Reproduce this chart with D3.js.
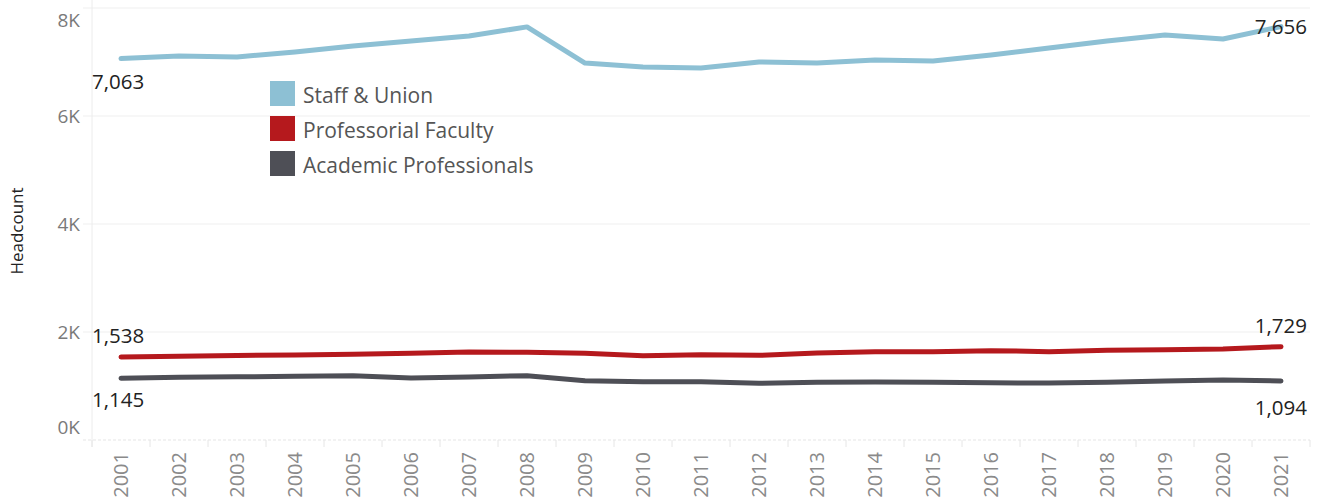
<!DOCTYPE html>
<html>
<head>
<meta charset="utf-8">
<script src="https://cdn.jsdelivr.net/npm/d3@7"></script>
<style>
  body { margin: 0; background: #fff; }
  text { font-family: "Open Sans", "Noto Sans", sans-serif; }
</style>
</head>
<body>
<svg id="chart"></svg>
<script>
// data
var years = ["2001","2002","2003","2004","2005","2006","2007","2008","2009","2010","2011",
             "2012","2013","2014","2015","2016","2017","2018","2019","2020","2021"];
var staffUnion = [7063,7111,7093,7185,7296,7389,7481,7650,6981,6907,6889,
                  7000,6981,7037,7018,7130,7259,7389,7500,7426,7656];
var professorial = [1538,1552,1565,1575,1590,1605,1630,1624,1605,1562,1580,
                    1568,1611,1636,1634,1655,1636,1660,1673,1685,1729];
var academicProf = [1145,1162,1170,1180,1192,1148,1167,1191,1099,1080,1080,
                    1049,1068,1074,1068,1060,1055,1070,1093,1111,1094];
var seriesNames = ["Staff & Union","Professorial Faculty","Academic Professionals"];
var seriesColors = ["#8dc0d4","#b5191d","#4e4f56"];
var yTicks = [0,2000,4000,6000,8000];

var width = 1320, height = 503;
var plotLeft = 92, plotRight = 1310, plotTop = 8, plotBottom = 440;

var svg = d3.select("#chart").attr("width", width).attr("height", height);

var x = d3.scaleBand().domain(years).range([plotLeft, plotRight]);
var y = d3.scaleLinear().domain([0, 8000]).range([plotBottom, plotTop]);

// gridlines
svg.append("g").selectAll("line").data(yTicks).enter().append("line")
  .attr("x1", 83).attr("x2", plotRight)
  .attr("y1", function(d){ return y(d); }).attr("y2", function(d){ return y(d); })
  .attr("stroke", function(d){ return d === 0 ? "#e6e6e6" : "#f0f0f0"; })
  .attr("stroke-dasharray", function(d){ return d === 0 ? "3,2" : null; })
  .attr("stroke-width", 1.2);

// left axis line
svg.append("line").attr("x1", plotLeft).attr("x2", plotLeft).attr("y1", 0).attr("y2", 447)
  .attr("stroke", "#ececec").attr("stroke-width", 1);

// y tick labels (end ones nudged inside like Tableau)
svg.append("g").selectAll("text").data(yTicks).enter().append("text")
  .attr("x", 80)
  .attr("y", function(d){
    var p = y(d);
    if (d === 8000) p += 12;
    if (d === 0) p -= 13;
    return p;
  })
  .attr("dy", "0.35em")
  .attr("text-anchor", "end")
  .attr("font-size", 19).attr("fill", "#7a7a7a")
  .text(function(d){ return d3.format("d")(d / 1000) + "K"; });

// y title
svg.append("text")
  .attr("transform", "translate(23,231) rotate(-90)")
  .attr("text-anchor", "middle")
  .attr("font-size", 17).attr("fill", "#222")
  .text("Headcount");

// x ticks between bands
var bounds = years.map(function(d){ return x(d); }).concat([plotRight]);
svg.append("g").selectAll("line").data(bounds).enter().append("line")
  .attr("x1", function(d){ return d; }).attr("x2", function(d){ return d; })
  .attr("y1", plotBottom).attr("y2", 447)
  .attr("stroke", "#e6e6e6");

// x labels
svg.append("g").selectAll("text").data(years).enter().append("text")
  .attr("transform", function(d){
    return "translate(" + (x(d) + x.bandwidth() / 2) + ",452) rotate(-90)";
  })
  .attr("text-anchor", "end")
  .attr("dy", "0.35em")
  .attr("font-size", 20).attr("fill", "#8a8a8a")
  .text(function(d){ return d; });

// lines
var line = d3.line()
  .x(function(d, i){ return x(years[i]) + x.bandwidth() / 2; })
  .y(function(d){ return y(d); });

var allSeries = [staffUnion, professorial, academicProf];
allSeries.forEach(function(s, i){
  svg.append("path").datum(s)
    .attr("d", line)
    .attr("fill", "none")
    .attr("stroke", seriesColors[i])
    .attr("stroke-width", 5)
    .attr("stroke-linejoin", "round")
    .attr("stroke-linecap", "round");
});

// end labels
var fmt = d3.format(",");
var last = years.length - 1;
var labels = [
  { v: staffUnion[0], x: plotLeft, y: y(staffUnion[0]) + 23, anchor: "start" },
  { v: staffUnion[last], x: 1307, y: y(staffUnion[last]) + 0, anchor: "end" },
  { v: professorial[0], x: plotLeft, y: y(professorial[0]) - 21, anchor: "start" },
  { v: professorial[last], x: 1307, y: y(professorial[last]) - 21, anchor: "end" },
  { v: academicProf[0], x: plotLeft, y: y(academicProf[0]) + 22, anchor: "start" },
  { v: academicProf[last], x: 1307, y: y(academicProf[last]) + 27, anchor: "end" }
];
svg.append("g").selectAll("text").data(labels).enter().append("text")
  .attr("x", function(d){ return d.x; })
  .attr("y", function(d){ return d.y; })
  .attr("dy", "0.35em")
  .attr("text-anchor", function(d){ return d.anchor; })
  .attr("font-size", 20.5).attr("fill", "#222")
  .text(function(d){ return fmt(d.v); });

// legend
var legend = svg.append("g").attr("transform", "translate(270,81)");
seriesNames.forEach(function(n, i){
  var g = legend.append("g").attr("transform", "translate(0," + (i * 35) + ")");
  g.append("rect").attr("width", 25).attr("height", 25).attr("fill", seriesColors[i]);
  g.append("text").attr("x", 33).attr("y", 14.5).attr("dy", "0.35em")
    .attr("font-size", 21).attr("fill", "#555").text(n);
});
</script>
</body>
</html>
